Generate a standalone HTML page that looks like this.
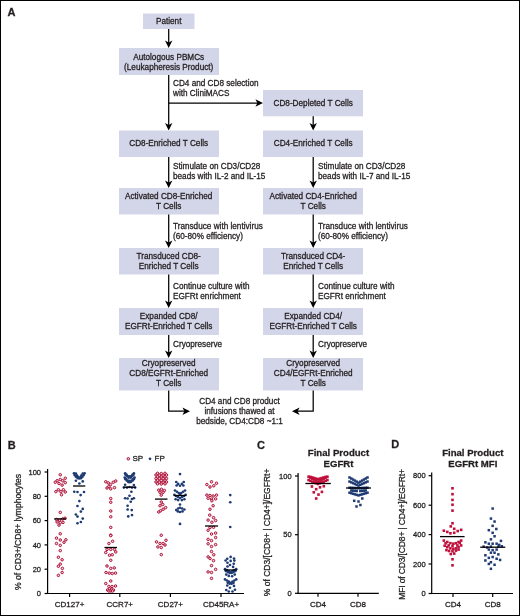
<!DOCTYPE html>
<html><head><meta charset="utf-8"><title>Figure</title>
<style>
html,body{margin:0;padding:0;background:#fff;}
body{width:520px;height:616px;overflow:hidden;position:relative;}
svg{position:absolute;left:0;top:0;display:block;}
svg text{font-family:"Liberation Sans",sans-serif;fill:#231f20;stroke:#231f20;stroke-width:0.28px;}
#frame{position:absolute;left:0;top:0;width:520px;height:616px;box-sizing:border-box;border:1px solid #000;border-bottom-width:1.5px;}
</style></head><body>
<svg width="520" height="616" viewBox="0 0 520 616">
<text x="7.6" y="16" text-anchor="start" font-size="11" font-weight="bold" >A</text>
<rect x="143" y="13.5" width="51.5" height="15.5" fill="#d3d5e8"/>
<text x="168.7" y="23.9" text-anchor="middle" font-size="8.2" font-weight="normal" >Patient</text>
<line x1="168.7" y1="29" x2="168.7" y2="44" stroke="#000" stroke-width="1.25"/>
<polygon points="168.70,48.00 165.00,40.40 168.70,42.40 172.40,40.40" fill="#000"/>
<rect x="119" y="48" width="100" height="27" fill="#d3d5e8"/>
<text x="168.7" y="59.6" text-anchor="middle" font-size="8.2" font-weight="normal" >Autologous PBMCs</text>
<text x="168.7" y="69.6" text-anchor="middle" font-size="8.2" font-weight="normal" >(Leukapheresis Product)</text>
<line x1="168.7" y1="75" x2="168.7" y2="126.5" stroke="#000" stroke-width="1.25"/>
<polygon points="168.70,130.50 165.00,122.90 168.70,124.90 172.40,122.90" fill="#000"/>
<text x="173" y="85.8" text-anchor="start" font-size="8.2" font-weight="normal" >CD4 and CD8 selection</text>
<text x="173" y="95.8" text-anchor="start" font-size="8.2" font-weight="normal" >with CliniMACS</text>
<line x1="168.7" y1="103" x2="258" y2="103" stroke="#000" stroke-width="1.25"/>
<polygon points="263.00,103.00 255.40,99.30 257.40,103.00 255.40,106.70" fill="#000"/>
<rect x="119" y="130.5" width="100" height="26.5" fill="#d3d5e8"/>
<text x="168.7" y="146.3" text-anchor="middle" font-size="8.2" font-weight="normal" >CD8-Enriched T Cells</text>
<line x1="168.7" y1="157" x2="168.7" y2="184" stroke="#000" stroke-width="1.25"/>
<polygon points="168.70,188.00 165.00,180.40 168.70,182.40 172.40,180.40" fill="#000"/>
<text x="173" y="168.8" text-anchor="start" font-size="8.2" font-weight="normal" >Stimulate on CD3/CD28</text>
<text x="173" y="178.8" text-anchor="start" font-size="8.2" font-weight="normal" >beads with IL-2 and IL-15</text>
<rect x="119" y="188" width="100" height="26.5" fill="#d3d5e8"/>
<text x="168.7" y="199.2" text-anchor="middle" font-size="8.2" font-weight="normal" >Activated CD8-Enriched</text>
<text x="168.7" y="209.2" text-anchor="middle" font-size="8.2" font-weight="normal" >T Cells</text>
<line x1="168.7" y1="214.5" x2="168.7" y2="244" stroke="#000" stroke-width="1.25"/>
<polygon points="168.70,248.00 165.00,240.40 168.70,242.40 172.40,240.40" fill="#000"/>
<text x="173" y="229" text-anchor="start" font-size="8.2" font-weight="normal" >Transduce with lentivirus</text>
<text x="173" y="239" text-anchor="start" font-size="8.2" font-weight="normal" >(60-80% efficiency)</text>
<rect x="119" y="248" width="100" height="26.5" fill="#d3d5e8"/>
<text x="168.7" y="259.2" text-anchor="middle" font-size="8.2" font-weight="normal" >Transduced CD8-</text>
<text x="168.7" y="269.2" text-anchor="middle" font-size="8.2" font-weight="normal" >Enriched T Cells</text>
<line x1="168.7" y1="274.5" x2="168.7" y2="304" stroke="#000" stroke-width="1.25"/>
<polygon points="168.70,308.00 165.00,300.40 168.70,302.40 172.40,300.40" fill="#000"/>
<text x="173" y="288.8" text-anchor="start" font-size="8.2" font-weight="normal" >Continue culture with</text>
<text x="173" y="298.8" text-anchor="start" font-size="8.2" font-weight="normal" >EGFRt enrichment</text>
<rect x="119" y="308" width="100" height="27" fill="#d3d5e8"/>
<text x="168.7" y="319.2" text-anchor="middle" font-size="8.2" font-weight="normal" >Expanded CD8/</text>
<text x="168.7" y="329.2" text-anchor="middle" font-size="8.2" font-weight="normal" >EGFRt-Enriched T Cells</text>
<line x1="168.7" y1="335" x2="168.7" y2="354" stroke="#000" stroke-width="1.25"/>
<polygon points="168.70,358.00 165.00,350.40 168.70,352.40 172.40,350.40" fill="#000"/>
<text x="173" y="347" text-anchor="start" font-size="8.2" font-weight="normal" >Cryopreserve</text>
<rect x="119" y="358" width="100" height="32.5" fill="#d3d5e8"/>
<text x="168.7" y="366.3" text-anchor="middle" font-size="8.2" font-weight="normal" >Cryopreserved</text>
<text x="168.7" y="376.3" text-anchor="middle" font-size="8.2" font-weight="normal" >CD8/EGFRt-Enriched</text>
<text x="168.7" y="386.3" text-anchor="middle" font-size="8.2" font-weight="normal" >T Cells</text>
<polyline points="168.7,390.5 168.7,411.2 186,411.2" fill="none" stroke="#000" stroke-width="1.25"/>
<polygon points="190.00,411.20 182.40,407.50 184.40,411.20 182.40,414.90" fill="#000"/>
<rect x="263" y="90" width="100" height="26.299999999999997" fill="#d3d5e8"/>
<text x="313.2" y="105.8" text-anchor="middle" font-size="8.2" font-weight="normal" >CD8-Depleted T Cells</text>
<line x1="313.2" y1="116.3" x2="313.2" y2="126.5" stroke="#000" stroke-width="1.25"/>
<polygon points="313.20,130.50 309.50,122.90 313.20,124.90 316.90,122.90" fill="#000"/>
<rect x="263" y="130.5" width="100" height="26.5" fill="#d3d5e8"/>
<text x="313.2" y="146" text-anchor="middle" font-size="8.2" font-weight="normal" >CD4-Enriched T Cells</text>
<line x1="313.2" y1="157" x2="313.2" y2="184" stroke="#000" stroke-width="1.25"/>
<polygon points="313.20,188.00 309.50,180.40 313.20,182.40 316.90,180.40" fill="#000"/>
<text x="318" y="168.8" text-anchor="start" font-size="8.2" font-weight="normal" >Stimulate on CD3/CD28</text>
<text x="318" y="178.8" text-anchor="start" font-size="8.2" font-weight="normal" >beads with IL-7 and IL-15</text>
<rect x="263" y="188" width="100" height="26.5" fill="#d3d5e8"/>
<text x="313.2" y="199.2" text-anchor="middle" font-size="8.2" font-weight="normal" >Activated CD4-Enriched</text>
<text x="313.2" y="209.2" text-anchor="middle" font-size="8.2" font-weight="normal" >T Cells</text>
<line x1="313.2" y1="214.5" x2="313.2" y2="244" stroke="#000" stroke-width="1.25"/>
<polygon points="313.20,248.00 309.50,240.40 313.20,242.40 316.90,240.40" fill="#000"/>
<text x="318" y="229" text-anchor="start" font-size="8.2" font-weight="normal" >Transduce with lentivirus</text>
<text x="318" y="239" text-anchor="start" font-size="8.2" font-weight="normal" >(60-80% efficiency)</text>
<rect x="263" y="248" width="100" height="26.5" fill="#d3d5e8"/>
<text x="313.2" y="259.2" text-anchor="middle" font-size="8.2" font-weight="normal" >Transduced CD4-</text>
<text x="313.2" y="269.2" text-anchor="middle" font-size="8.2" font-weight="normal" >Enriched T Cells</text>
<line x1="313.2" y1="274.5" x2="313.2" y2="304" stroke="#000" stroke-width="1.25"/>
<polygon points="313.20,308.00 309.50,300.40 313.20,302.40 316.90,300.40" fill="#000"/>
<text x="318" y="288.8" text-anchor="start" font-size="8.2" font-weight="normal" >Continue culture with</text>
<text x="318" y="298.8" text-anchor="start" font-size="8.2" font-weight="normal" >EGFRt enrichment</text>
<rect x="263" y="308" width="100" height="27" fill="#d3d5e8"/>
<text x="313.2" y="319.2" text-anchor="middle" font-size="8.2" font-weight="normal" >Expanded CD4/</text>
<text x="313.2" y="329.2" text-anchor="middle" font-size="8.2" font-weight="normal" >EGFRt-Enriched T Cells</text>
<line x1="313.2" y1="335" x2="313.2" y2="354" stroke="#000" stroke-width="1.25"/>
<polygon points="313.20,358.00 309.50,350.40 313.20,352.40 316.90,350.40" fill="#000"/>
<text x="318" y="347" text-anchor="start" font-size="8.2" font-weight="normal" >Cryopreserve</text>
<rect x="263" y="358" width="100" height="32.5" fill="#d3d5e8"/>
<text x="313.2" y="366.3" text-anchor="middle" font-size="8.2" font-weight="normal" >Cryopreserved</text>
<text x="313.2" y="376.3" text-anchor="middle" font-size="8.2" font-weight="normal" >CD4/EGFRt-Enriched</text>
<text x="313.2" y="386.3" text-anchor="middle" font-size="8.2" font-weight="normal" >T Cells</text>
<polyline points="313.2,390.5 313.2,411.2 296,411.2" fill="none" stroke="#000" stroke-width="1.25"/>
<polygon points="292.00,411.20 299.60,407.50 297.60,411.20 299.60,414.90" fill="#000"/>
<text x="239.5" y="403.8" text-anchor="middle" font-size="8.2" font-weight="normal" >CD4 and CD8 product</text>
<text x="239.5" y="413.8" text-anchor="middle" font-size="8.2" font-weight="normal" >infusions thawed at</text>
<text x="239.5" y="423.8" text-anchor="middle" font-size="8.2" font-weight="normal" >bedside, CD4:CD8 ~1:1</text>
<text x="7.8" y="448.6" text-anchor="start" font-size="11" font-weight="bold" >B</text>
<circle cx="128.30" cy="458.80" r="1.25" fill="#f6d3dc" stroke="#ad0e35" stroke-width="1.0"/>
<text x="132.5" y="461.3" text-anchor="start" font-size="8.0" font-weight="normal" >SP</text>
<circle cx="150.00" cy="458.80" r="1.35" fill="#1f3b73"/>
<text x="154.5" y="461.3" text-anchor="start" font-size="8.0" font-weight="normal" >FP</text>
<line x1="47.6" y1="469" x2="47.6" y2="594" stroke="#000" stroke-width="1.2"/>
<line x1="47.1" y1="593.5" x2="244" y2="593.5" stroke="#000" stroke-width="1.2"/>
<line x1="44.6" y1="593.5" x2="47.6" y2="593.5" stroke="#000" stroke-width="1.2"/>
<text x="41" y="596.1" text-anchor="end" font-size="7.5" font-weight="normal" >0</text>
<line x1="44.6" y1="569.2" x2="47.6" y2="569.2" stroke="#000" stroke-width="1.2"/>
<text x="41" y="571.8000000000001" text-anchor="end" font-size="7.5" font-weight="normal" >20</text>
<line x1="44.6" y1="544.9" x2="47.6" y2="544.9" stroke="#000" stroke-width="1.2"/>
<text x="41" y="547.5" text-anchor="end" font-size="7.5" font-weight="normal" >40</text>
<line x1="44.6" y1="520.6" x2="47.6" y2="520.6" stroke="#000" stroke-width="1.2"/>
<text x="41" y="523.2" text-anchor="end" font-size="7.5" font-weight="normal" >60</text>
<line x1="44.6" y1="496.3" x2="47.6" y2="496.3" stroke="#000" stroke-width="1.2"/>
<text x="41" y="498.90000000000003" text-anchor="end" font-size="7.5" font-weight="normal" >80</text>
<line x1="44.6" y1="472.0" x2="47.6" y2="472.0" stroke="#000" stroke-width="1.2"/>
<text x="41" y="474.6" text-anchor="end" font-size="7.5" font-weight="normal" >100</text>
<line x1="69.6" y1="593.5" x2="69.6" y2="597" stroke="#000" stroke-width="1.2"/>
<text x="69.6" y="606.6" text-anchor="middle" font-size="8.0" font-weight="normal" >CD127+</text>
<line x1="119.8" y1="593.5" x2="119.8" y2="597" stroke="#000" stroke-width="1.2"/>
<text x="119.8" y="606.6" text-anchor="middle" font-size="8.0" font-weight="normal" >CCR7+</text>
<line x1="170.4" y1="593.5" x2="170.4" y2="597" stroke="#000" stroke-width="1.2"/>
<text x="170.4" y="606.6" text-anchor="middle" font-size="8.0" font-weight="normal" >CD27+</text>
<line x1="221" y1="593.5" x2="221" y2="597" stroke="#000" stroke-width="1.2"/>
<text x="221" y="606.6" text-anchor="middle" font-size="8.0" font-weight="normal" >CD45RA+</text>
<text transform="translate(21.3,531.9) rotate(-90)" text-anchor="middle" font-size="8.6" textLength="116" lengthAdjust="spacing">% of CD3+/CD8+ lymphocytes</text>
<circle cx="60.25" cy="474.75" r="1.25" fill="#f6d3dc" stroke="#ad0e35" stroke-width="1.0"/>
<circle cx="65.25" cy="478.25" r="1.25" fill="#f6d3dc" stroke="#ad0e35" stroke-width="1.0"/>
<circle cx="60.25" cy="479.50" r="1.25" fill="#f6d3dc" stroke="#ad0e35" stroke-width="1.0"/>
<circle cx="57.12" cy="480.75" r="1.25" fill="#f6d3dc" stroke="#ad0e35" stroke-width="1.0"/>
<circle cx="62.75" cy="480.75" r="1.25" fill="#f6d3dc" stroke="#ad0e35" stroke-width="1.0"/>
<circle cx="55.25" cy="482.25" r="1.25" fill="#f6d3dc" stroke="#ad0e35" stroke-width="1.0"/>
<circle cx="65.25" cy="482.62" r="1.25" fill="#f6d3dc" stroke="#ad0e35" stroke-width="1.0"/>
<circle cx="59.00" cy="483.50" r="1.25" fill="#f6d3dc" stroke="#ad0e35" stroke-width="1.0"/>
<circle cx="62.12" cy="485.12" r="1.25" fill="#f6d3dc" stroke="#ad0e35" stroke-width="1.0"/>
<circle cx="58.38" cy="489.75" r="1.25" fill="#f6d3dc" stroke="#ad0e35" stroke-width="1.0"/>
<circle cx="63.38" cy="489.75" r="1.25" fill="#f6d3dc" stroke="#ad0e35" stroke-width="1.0"/>
<circle cx="55.88" cy="491.62" r="1.25" fill="#f6d3dc" stroke="#ad0e35" stroke-width="1.0"/>
<circle cx="60.88" cy="491.62" r="1.25" fill="#f6d3dc" stroke="#ad0e35" stroke-width="1.0"/>
<circle cx="65.25" cy="492.00" r="1.25" fill="#f6d3dc" stroke="#ad0e35" stroke-width="1.0"/>
<circle cx="61.50" cy="494.75" r="1.25" fill="#f6d3dc" stroke="#ad0e35" stroke-width="1.0"/>
<circle cx="60.25" cy="512.38" r="1.25" fill="#f6d3dc" stroke="#ad0e35" stroke-width="1.0"/>
<circle cx="56.50" cy="519.50" r="1.25" fill="#f6d3dc" stroke="#ad0e35" stroke-width="1.0"/>
<circle cx="59.62" cy="520.12" r="1.25" fill="#f6d3dc" stroke="#ad0e35" stroke-width="1.0"/>
<circle cx="62.75" cy="518.88" r="1.25" fill="#f6d3dc" stroke="#ad0e35" stroke-width="1.0"/>
<circle cx="65.00" cy="518.25" r="1.25" fill="#f6d3dc" stroke="#ad0e35" stroke-width="1.0"/>
<circle cx="57.12" cy="522.00" r="1.25" fill="#f6d3dc" stroke="#ad0e35" stroke-width="1.0"/>
<circle cx="60.25" cy="522.62" r="1.25" fill="#f6d3dc" stroke="#ad0e35" stroke-width="1.0"/>
<circle cx="63.00" cy="522.38" r="1.25" fill="#f6d3dc" stroke="#ad0e35" stroke-width="1.0"/>
<circle cx="59.00" cy="525.12" r="1.25" fill="#f6d3dc" stroke="#ad0e35" stroke-width="1.0"/>
<circle cx="60.25" cy="533.75" r="1.25" fill="#f6d3dc" stroke="#ad0e35" stroke-width="1.0"/>
<circle cx="56.50" cy="538.12" r="1.25" fill="#f6d3dc" stroke="#ad0e35" stroke-width="1.0"/>
<circle cx="60.25" cy="540.00" r="1.25" fill="#f6d3dc" stroke="#ad0e35" stroke-width="1.0"/>
<circle cx="65.88" cy="539.75" r="1.25" fill="#f6d3dc" stroke="#ad0e35" stroke-width="1.0"/>
<circle cx="64.00" cy="542.25" r="1.25" fill="#f6d3dc" stroke="#ad0e35" stroke-width="1.0"/>
<circle cx="56.50" cy="543.50" r="1.25" fill="#f6d3dc" stroke="#ad0e35" stroke-width="1.0"/>
<circle cx="60.25" cy="545.38" r="1.25" fill="#f6d3dc" stroke="#ad0e35" stroke-width="1.0"/>
<circle cx="60.25" cy="550.62" r="1.25" fill="#f6d3dc" stroke="#ad0e35" stroke-width="1.0"/>
<circle cx="58.38" cy="557.25" r="1.25" fill="#f6d3dc" stroke="#ad0e35" stroke-width="1.0"/>
<circle cx="62.12" cy="559.75" r="1.25" fill="#f6d3dc" stroke="#ad0e35" stroke-width="1.0"/>
<circle cx="60.25" cy="564.12" r="1.25" fill="#f6d3dc" stroke="#ad0e35" stroke-width="1.0"/>
<circle cx="58.38" cy="566.25" r="1.25" fill="#f6d3dc" stroke="#ad0e35" stroke-width="1.0"/>
<circle cx="62.38" cy="568.38" r="1.25" fill="#f6d3dc" stroke="#ad0e35" stroke-width="1.0"/>
<circle cx="62.12" cy="572.50" r="1.25" fill="#f6d3dc" stroke="#ad0e35" stroke-width="1.0"/>
<circle cx="58.38" cy="575.38" r="1.25" fill="#f6d3dc" stroke="#ad0e35" stroke-width="1.0"/>
<line x1="54.2" y1="518.9" x2="66.2" y2="518.9" stroke="#000" stroke-width="1.3"/>
<circle cx="74.00" cy="473.25" r="1.35" fill="#1f3b73"/>
<circle cx="75.88" cy="473.50" r="1.35" fill="#1f3b73"/>
<circle cx="82.75" cy="473.50" r="1.35" fill="#1f3b73"/>
<circle cx="84.62" cy="473.25" r="1.35" fill="#1f3b73"/>
<circle cx="74.62" cy="475.12" r="1.35" fill="#1f3b73"/>
<circle cx="76.75" cy="475.25" r="1.35" fill="#1f3b73"/>
<circle cx="81.50" cy="475.25" r="1.35" fill="#1f3b73"/>
<circle cx="83.75" cy="475.12" r="1.35" fill="#1f3b73"/>
<circle cx="75.88" cy="476.75" r="1.35" fill="#1f3b73"/>
<circle cx="78.00" cy="476.88" r="1.35" fill="#1f3b73"/>
<circle cx="80.50" cy="476.88" r="1.35" fill="#1f3b73"/>
<circle cx="82.50" cy="476.75" r="1.35" fill="#1f3b73"/>
<circle cx="77.75" cy="478.25" r="1.35" fill="#1f3b73"/>
<circle cx="79.38" cy="478.50" r="1.35" fill="#1f3b73"/>
<circle cx="81.00" cy="478.25" r="1.35" fill="#1f3b73"/>
<circle cx="75.88" cy="480.75" r="1.35" fill="#1f3b73"/>
<circle cx="82.75" cy="481.38" r="1.35" fill="#1f3b73"/>
<circle cx="79.38" cy="483.50" r="1.35" fill="#1f3b73"/>
<circle cx="74.25" cy="491.75" r="1.35" fill="#1f3b73"/>
<circle cx="77.50" cy="492.00" r="1.35" fill="#1f3b73"/>
<circle cx="84.00" cy="492.00" r="1.35" fill="#1f3b73"/>
<circle cx="80.62" cy="495.12" r="1.35" fill="#1f3b73"/>
<circle cx="79.38" cy="501.12" r="1.35" fill="#1f3b73"/>
<circle cx="77.50" cy="506.00" r="1.35" fill="#1f3b73"/>
<circle cx="82.75" cy="508.88" r="1.35" fill="#1f3b73"/>
<circle cx="80.88" cy="511.62" r="1.35" fill="#1f3b73"/>
<circle cx="75.88" cy="514.50" r="1.35" fill="#1f3b73"/>
<circle cx="77.50" cy="516.62" r="1.35" fill="#1f3b73"/>
<circle cx="82.75" cy="518.62" r="1.35" fill="#1f3b73"/>
<circle cx="80.88" cy="522.00" r="1.35" fill="#1f3b73"/>
<circle cx="77.50" cy="523.25" r="1.35" fill="#1f3b73"/>
<line x1="73" y1="486" x2="85.3" y2="486" stroke="#000" stroke-width="1.3"/>
<circle cx="105.75" cy="481.75" r="1.25" fill="#f6d3dc" stroke="#ad0e35" stroke-width="1.0"/>
<circle cx="115.75" cy="481.00" r="1.25" fill="#f6d3dc" stroke="#ad0e35" stroke-width="1.0"/>
<circle cx="108.25" cy="482.88" r="1.25" fill="#f6d3dc" stroke="#ad0e35" stroke-width="1.0"/>
<circle cx="113.25" cy="482.25" r="1.25" fill="#f6d3dc" stroke="#ad0e35" stroke-width="1.0"/>
<circle cx="110.50" cy="484.50" r="1.25" fill="#f6d3dc" stroke="#ad0e35" stroke-width="1.0"/>
<circle cx="107.00" cy="488.00" r="1.25" fill="#f6d3dc" stroke="#ad0e35" stroke-width="1.0"/>
<circle cx="110.75" cy="488.88" r="1.25" fill="#f6d3dc" stroke="#ad0e35" stroke-width="1.0"/>
<circle cx="114.50" cy="487.62" r="1.25" fill="#f6d3dc" stroke="#ad0e35" stroke-width="1.0"/>
<circle cx="108.88" cy="486.38" r="1.25" fill="#f6d3dc" stroke="#ad0e35" stroke-width="1.0"/>
<circle cx="110.75" cy="498.50" r="1.25" fill="#f6d3dc" stroke="#ad0e35" stroke-width="1.0"/>
<circle cx="110.75" cy="502.25" r="1.25" fill="#f6d3dc" stroke="#ad0e35" stroke-width="1.0"/>
<circle cx="110.75" cy="511.00" r="1.25" fill="#f6d3dc" stroke="#ad0e35" stroke-width="1.0"/>
<circle cx="110.75" cy="516.75" r="1.25" fill="#f6d3dc" stroke="#ad0e35" stroke-width="1.0"/>
<circle cx="110.75" cy="527.38" r="1.25" fill="#f6d3dc" stroke="#ad0e35" stroke-width="1.0"/>
<circle cx="110.75" cy="535.12" r="1.25" fill="#f6d3dc" stroke="#ad0e35" stroke-width="1.0"/>
<circle cx="110.75" cy="535.62" r="1.25" fill="#f6d3dc" stroke="#ad0e35" stroke-width="1.0"/>
<circle cx="112.62" cy="541.25" r="1.25" fill="#f6d3dc" stroke="#ad0e35" stroke-width="1.0"/>
<circle cx="108.88" cy="543.50" r="1.25" fill="#f6d3dc" stroke="#ad0e35" stroke-width="1.0"/>
<circle cx="107.00" cy="549.38" r="1.25" fill="#f6d3dc" stroke="#ad0e35" stroke-width="1.0"/>
<circle cx="110.75" cy="549.38" r="1.25" fill="#f6d3dc" stroke="#ad0e35" stroke-width="1.0"/>
<circle cx="114.50" cy="549.38" r="1.25" fill="#f6d3dc" stroke="#ad0e35" stroke-width="1.0"/>
<circle cx="105.75" cy="552.50" r="1.25" fill="#f6d3dc" stroke="#ad0e35" stroke-width="1.0"/>
<circle cx="115.75" cy="551.88" r="1.25" fill="#f6d3dc" stroke="#ad0e35" stroke-width="1.0"/>
<circle cx="109.50" cy="555.25" r="1.25" fill="#f6d3dc" stroke="#ad0e35" stroke-width="1.0"/>
<circle cx="112.25" cy="554.75" r="1.25" fill="#f6d3dc" stroke="#ad0e35" stroke-width="1.0"/>
<circle cx="110.75" cy="560.25" r="1.25" fill="#f6d3dc" stroke="#ad0e35" stroke-width="1.0"/>
<circle cx="107.00" cy="566.00" r="1.25" fill="#f6d3dc" stroke="#ad0e35" stroke-width="1.0"/>
<circle cx="110.75" cy="568.38" r="1.25" fill="#f6d3dc" stroke="#ad0e35" stroke-width="1.0"/>
<circle cx="114.25" cy="567.88" r="1.25" fill="#f6d3dc" stroke="#ad0e35" stroke-width="1.0"/>
<circle cx="106.00" cy="572.50" r="1.25" fill="#f6d3dc" stroke="#ad0e35" stroke-width="1.0"/>
<circle cx="109.25" cy="573.12" r="1.25" fill="#f6d3dc" stroke="#ad0e35" stroke-width="1.0"/>
<circle cx="112.25" cy="573.50" r="1.25" fill="#f6d3dc" stroke="#ad0e35" stroke-width="1.0"/>
<circle cx="115.50" cy="573.12" r="1.25" fill="#f6d3dc" stroke="#ad0e35" stroke-width="1.0"/>
<circle cx="110.75" cy="581.00" r="1.25" fill="#f6d3dc" stroke="#ad0e35" stroke-width="1.0"/>
<circle cx="105.75" cy="583.50" r="1.25" fill="#f6d3dc" stroke="#ad0e35" stroke-width="1.0"/>
<circle cx="108.88" cy="586.50" r="1.25" fill="#f6d3dc" stroke="#ad0e35" stroke-width="1.0"/>
<circle cx="112.00" cy="586.50" r="1.25" fill="#f6d3dc" stroke="#ad0e35" stroke-width="1.0"/>
<circle cx="115.50" cy="586.00" r="1.25" fill="#f6d3dc" stroke="#ad0e35" stroke-width="1.0"/>
<circle cx="107.62" cy="590.00" r="1.25" fill="#f6d3dc" stroke="#ad0e35" stroke-width="1.0"/>
<circle cx="109.50" cy="588.75" r="1.25" fill="#f6d3dc" stroke="#ad0e35" stroke-width="1.0"/>
<circle cx="111.38" cy="589.38" r="1.25" fill="#f6d3dc" stroke="#ad0e35" stroke-width="1.0"/>
<circle cx="113.50" cy="590.00" r="1.25" fill="#f6d3dc" stroke="#ad0e35" stroke-width="1.0"/>
<circle cx="110.75" cy="591.00" r="1.25" fill="#f6d3dc" stroke="#ad0e35" stroke-width="1.0"/>
<circle cx="108.88" cy="591.00" r="1.25" fill="#f6d3dc" stroke="#ad0e35" stroke-width="1.0"/>
<circle cx="112.62" cy="591.00" r="1.25" fill="#f6d3dc" stroke="#ad0e35" stroke-width="1.0"/>
<line x1="104.5" y1="547.5" x2="117" y2="547.5" stroke="#000" stroke-width="1.3"/>
<circle cx="125.12" cy="473.25" r="1.35" fill="#1f3b73"/>
<circle cx="133.88" cy="473.25" r="1.35" fill="#1f3b73"/>
<circle cx="126.38" cy="474.50" r="1.35" fill="#1f3b73"/>
<circle cx="132.62" cy="474.50" r="1.35" fill="#1f3b73"/>
<circle cx="127.62" cy="476.00" r="1.35" fill="#1f3b73"/>
<circle cx="129.50" cy="476.38" r="1.35" fill="#1f3b73"/>
<circle cx="131.38" cy="476.00" r="1.35" fill="#1f3b73"/>
<circle cx="124.75" cy="477.62" r="1.35" fill="#1f3b73"/>
<circle cx="134.50" cy="477.62" r="1.35" fill="#1f3b73"/>
<circle cx="126.00" cy="478.88" r="1.35" fill="#1f3b73"/>
<circle cx="133.25" cy="478.88" r="1.35" fill="#1f3b73"/>
<circle cx="127.62" cy="480.50" r="1.35" fill="#1f3b73"/>
<circle cx="129.50" cy="480.75" r="1.35" fill="#1f3b73"/>
<circle cx="131.75" cy="480.50" r="1.35" fill="#1f3b73"/>
<circle cx="125.50" cy="474.75" r="1.35" fill="#1f3b73"/>
<circle cx="133.50" cy="474.75" r="1.35" fill="#1f3b73"/>
<circle cx="127.00" cy="476.00" r="1.35" fill="#1f3b73"/>
<circle cx="132.25" cy="476.00" r="1.35" fill="#1f3b73"/>
<circle cx="128.50" cy="477.75" r="1.35" fill="#1f3b73"/>
<circle cx="130.75" cy="477.75" r="1.35" fill="#1f3b73"/>
<circle cx="125.25" cy="479.12" r="1.35" fill="#1f3b73"/>
<circle cx="134.00" cy="479.12" r="1.35" fill="#1f3b73"/>
<circle cx="126.75" cy="480.50" r="1.35" fill="#1f3b73"/>
<circle cx="132.75" cy="480.50" r="1.35" fill="#1f3b73"/>
<circle cx="129.50" cy="482.25" r="1.35" fill="#1f3b73"/>
<circle cx="128.25" cy="482.00" r="1.35" fill="#1f3b73"/>
<circle cx="131.00" cy="482.00" r="1.35" fill="#1f3b73"/>
<circle cx="125.12" cy="484.75" r="1.35" fill="#1f3b73"/>
<circle cx="133.88" cy="485.12" r="1.35" fill="#1f3b73"/>
<circle cx="123.88" cy="487.62" r="1.35" fill="#1f3b73"/>
<circle cx="127.00" cy="487.62" r="1.35" fill="#1f3b73"/>
<circle cx="129.50" cy="487.00" r="1.35" fill="#1f3b73"/>
<circle cx="132.00" cy="487.62" r="1.35" fill="#1f3b73"/>
<circle cx="135.12" cy="487.62" r="1.35" fill="#1f3b73"/>
<circle cx="131.38" cy="491.75" r="1.35" fill="#1f3b73"/>
<circle cx="129.50" cy="495.75" r="1.35" fill="#1f3b73"/>
<circle cx="125.12" cy="498.25" r="1.35" fill="#1f3b73"/>
<circle cx="127.62" cy="498.50" r="1.35" fill="#1f3b73"/>
<circle cx="133.88" cy="498.25" r="1.35" fill="#1f3b73"/>
<circle cx="132.00" cy="499.00" r="1.35" fill="#1f3b73"/>
<circle cx="130.75" cy="501.75" r="1.35" fill="#1f3b73"/>
<circle cx="127.62" cy="505.75" r="1.35" fill="#1f3b73"/>
<circle cx="127.62" cy="509.50" r="1.35" fill="#1f3b73"/>
<circle cx="131.75" cy="510.12" r="1.35" fill="#1f3b73"/>
<circle cx="132.00" cy="515.12" r="1.35" fill="#1f3b73"/>
<circle cx="128.25" cy="516.38" r="1.35" fill="#1f3b73"/>
<line x1="123.3" y1="487.2" x2="135.8" y2="487.2" stroke="#000" stroke-width="1.3"/>
<circle cx="157.50" cy="473.31" r="1.25" fill="#f6d3dc" stroke="#ad0e35" stroke-width="1.0"/>
<circle cx="161.25" cy="473.50" r="1.25" fill="#f6d3dc" stroke="#ad0e35" stroke-width="1.0"/>
<circle cx="165.00" cy="473.31" r="1.25" fill="#f6d3dc" stroke="#ad0e35" stroke-width="1.0"/>
<circle cx="156.00" cy="474.99" r="1.25" fill="#f6d3dc" stroke="#ad0e35" stroke-width="1.0"/>
<circle cx="159.38" cy="475.16" r="1.25" fill="#f6d3dc" stroke="#ad0e35" stroke-width="1.0"/>
<circle cx="163.12" cy="475.16" r="1.25" fill="#f6d3dc" stroke="#ad0e35" stroke-width="1.0"/>
<circle cx="166.50" cy="474.99" r="1.25" fill="#f6d3dc" stroke="#ad0e35" stroke-width="1.0"/>
<circle cx="157.50" cy="476.81" r="1.25" fill="#f6d3dc" stroke="#ad0e35" stroke-width="1.0"/>
<circle cx="161.25" cy="477.00" r="1.25" fill="#f6d3dc" stroke="#ad0e35" stroke-width="1.0"/>
<circle cx="165.00" cy="476.81" r="1.25" fill="#f6d3dc" stroke="#ad0e35" stroke-width="1.0"/>
<circle cx="156.00" cy="478.49" r="1.25" fill="#f6d3dc" stroke="#ad0e35" stroke-width="1.0"/>
<circle cx="159.38" cy="478.66" r="1.25" fill="#f6d3dc" stroke="#ad0e35" stroke-width="1.0"/>
<circle cx="163.12" cy="478.66" r="1.25" fill="#f6d3dc" stroke="#ad0e35" stroke-width="1.0"/>
<circle cx="166.50" cy="478.49" r="1.25" fill="#f6d3dc" stroke="#ad0e35" stroke-width="1.0"/>
<circle cx="157.50" cy="480.31" r="1.25" fill="#f6d3dc" stroke="#ad0e35" stroke-width="1.0"/>
<circle cx="161.25" cy="480.50" r="1.25" fill="#f6d3dc" stroke="#ad0e35" stroke-width="1.0"/>
<circle cx="165.00" cy="480.31" r="1.25" fill="#f6d3dc" stroke="#ad0e35" stroke-width="1.0"/>
<circle cx="156.00" cy="481.99" r="1.25" fill="#f6d3dc" stroke="#ad0e35" stroke-width="1.0"/>
<circle cx="159.38" cy="482.16" r="1.25" fill="#f6d3dc" stroke="#ad0e35" stroke-width="1.0"/>
<circle cx="163.12" cy="482.16" r="1.25" fill="#f6d3dc" stroke="#ad0e35" stroke-width="1.0"/>
<circle cx="166.50" cy="481.99" r="1.25" fill="#f6d3dc" stroke="#ad0e35" stroke-width="1.0"/>
<circle cx="157.50" cy="483.81" r="1.25" fill="#f6d3dc" stroke="#ad0e35" stroke-width="1.0"/>
<circle cx="161.25" cy="484.00" r="1.25" fill="#f6d3dc" stroke="#ad0e35" stroke-width="1.0"/>
<circle cx="165.00" cy="483.81" r="1.25" fill="#f6d3dc" stroke="#ad0e35" stroke-width="1.0"/>
<circle cx="158.75" cy="490.12" r="1.25" fill="#f6d3dc" stroke="#ad0e35" stroke-width="1.0"/>
<circle cx="161.50" cy="489.25" r="1.25" fill="#f6d3dc" stroke="#ad0e35" stroke-width="1.0"/>
<circle cx="164.38" cy="490.50" r="1.25" fill="#f6d3dc" stroke="#ad0e35" stroke-width="1.0"/>
<circle cx="160.00" cy="492.25" r="1.25" fill="#f6d3dc" stroke="#ad0e35" stroke-width="1.0"/>
<circle cx="163.12" cy="492.25" r="1.25" fill="#f6d3dc" stroke="#ad0e35" stroke-width="1.0"/>
<circle cx="161.25" cy="495.12" r="1.25" fill="#f6d3dc" stroke="#ad0e35" stroke-width="1.0"/>
<circle cx="161.25" cy="502.00" r="1.25" fill="#f6d3dc" stroke="#ad0e35" stroke-width="1.0"/>
<circle cx="160.00" cy="505.75" r="1.25" fill="#f6d3dc" stroke="#ad0e35" stroke-width="1.0"/>
<circle cx="162.75" cy="504.50" r="1.25" fill="#f6d3dc" stroke="#ad0e35" stroke-width="1.0"/>
<circle cx="165.62" cy="507.62" r="1.25" fill="#f6d3dc" stroke="#ad0e35" stroke-width="1.0"/>
<circle cx="163.12" cy="509.25" r="1.25" fill="#f6d3dc" stroke="#ad0e35" stroke-width="1.0"/>
<circle cx="160.62" cy="510.75" r="1.25" fill="#f6d3dc" stroke="#ad0e35" stroke-width="1.0"/>
<circle cx="158.75" cy="512.00" r="1.25" fill="#f6d3dc" stroke="#ad0e35" stroke-width="1.0"/>
<circle cx="161.25" cy="535.25" r="1.25" fill="#f6d3dc" stroke="#ad0e35" stroke-width="1.0"/>
<circle cx="166.00" cy="540.25" r="1.25" fill="#f6d3dc" stroke="#ad0e35" stroke-width="1.0"/>
<circle cx="156.50" cy="541.88" r="1.25" fill="#f6d3dc" stroke="#ad0e35" stroke-width="1.0"/>
<circle cx="160.00" cy="543.50" r="1.25" fill="#f6d3dc" stroke="#ad0e35" stroke-width="1.0"/>
<circle cx="163.12" cy="543.50" r="1.25" fill="#f6d3dc" stroke="#ad0e35" stroke-width="1.0"/>
<circle cx="165.00" cy="545.00" r="1.25" fill="#f6d3dc" stroke="#ad0e35" stroke-width="1.0"/>
<circle cx="157.88" cy="546.88" r="1.25" fill="#f6d3dc" stroke="#ad0e35" stroke-width="1.0"/>
<circle cx="161.25" cy="547.50" r="1.25" fill="#f6d3dc" stroke="#ad0e35" stroke-width="1.0"/>
<circle cx="161.25" cy="554.62" r="1.25" fill="#f6d3dc" stroke="#ad0e35" stroke-width="1.0"/>
<line x1="155" y1="499.1" x2="167.5" y2="499.1" stroke="#000" stroke-width="1.3"/>
<circle cx="180.00" cy="474.12" r="1.35" fill="#1f3b73"/>
<circle cx="176.25" cy="482.00" r="1.35" fill="#1f3b73"/>
<circle cx="183.75" cy="482.00" r="1.35" fill="#1f3b73"/>
<circle cx="178.12" cy="483.88" r="1.35" fill="#1f3b73"/>
<circle cx="181.88" cy="483.88" r="1.35" fill="#1f3b73"/>
<circle cx="180.00" cy="485.75" r="1.35" fill="#1f3b73"/>
<circle cx="176.62" cy="485.50" r="1.35" fill="#1f3b73"/>
<circle cx="183.38" cy="485.50" r="1.35" fill="#1f3b73"/>
<circle cx="175.00" cy="490.50" r="1.35" fill="#1f3b73"/>
<circle cx="185.00" cy="490.50" r="1.35" fill="#1f3b73"/>
<circle cx="176.88" cy="491.75" r="1.35" fill="#1f3b73"/>
<circle cx="183.12" cy="491.75" r="1.35" fill="#1f3b73"/>
<circle cx="178.75" cy="493.00" r="1.35" fill="#1f3b73"/>
<circle cx="181.25" cy="493.00" r="1.35" fill="#1f3b73"/>
<circle cx="180.00" cy="494.25" r="1.35" fill="#1f3b73"/>
<circle cx="174.38" cy="494.75" r="1.35" fill="#1f3b73"/>
<circle cx="185.62" cy="494.75" r="1.35" fill="#1f3b73"/>
<circle cx="176.00" cy="496.00" r="1.35" fill="#1f3b73"/>
<circle cx="184.00" cy="496.00" r="1.35" fill="#1f3b73"/>
<circle cx="177.88" cy="497.00" r="1.35" fill="#1f3b73"/>
<circle cx="182.12" cy="497.00" r="1.35" fill="#1f3b73"/>
<circle cx="180.00" cy="498.00" r="1.35" fill="#1f3b73"/>
<circle cx="175.62" cy="499.25" r="1.35" fill="#1f3b73"/>
<circle cx="184.38" cy="499.25" r="1.35" fill="#1f3b73"/>
<circle cx="178.12" cy="500.12" r="1.35" fill="#1f3b73"/>
<circle cx="181.88" cy="500.12" r="1.35" fill="#1f3b73"/>
<circle cx="180.00" cy="504.50" r="1.35" fill="#1f3b73"/>
<circle cx="176.25" cy="510.12" r="1.35" fill="#1f3b73"/>
<circle cx="178.12" cy="508.50" r="1.35" fill="#1f3b73"/>
<circle cx="180.00" cy="507.75" r="1.35" fill="#1f3b73"/>
<circle cx="182.12" cy="508.50" r="1.35" fill="#1f3b73"/>
<circle cx="184.38" cy="509.50" r="1.35" fill="#1f3b73"/>
<circle cx="180.00" cy="512.00" r="1.35" fill="#1f3b73"/>
<circle cx="177.88" cy="511.38" r="1.35" fill="#1f3b73"/>
<circle cx="182.50" cy="511.38" r="1.35" fill="#1f3b73"/>
<circle cx="180.00" cy="523.88" r="1.35" fill="#1f3b73"/>
<line x1="173.8" y1="495.5" x2="186.3" y2="495.5" stroke="#000" stroke-width="1.3"/>
<circle cx="211.50" cy="481.75" r="1.25" fill="#f6d3dc" stroke="#ad0e35" stroke-width="1.0"/>
<circle cx="216.50" cy="483.25" r="1.25" fill="#f6d3dc" stroke="#ad0e35" stroke-width="1.0"/>
<circle cx="206.88" cy="484.50" r="1.25" fill="#f6d3dc" stroke="#ad0e35" stroke-width="1.0"/>
<circle cx="213.75" cy="485.75" r="1.25" fill="#f6d3dc" stroke="#ad0e35" stroke-width="1.0"/>
<circle cx="210.00" cy="487.00" r="1.25" fill="#f6d3dc" stroke="#ad0e35" stroke-width="1.0"/>
<circle cx="206.88" cy="495.12" r="1.25" fill="#f6d3dc" stroke="#ad0e35" stroke-width="1.0"/>
<circle cx="210.00" cy="495.50" r="1.25" fill="#f6d3dc" stroke="#ad0e35" stroke-width="1.0"/>
<circle cx="213.12" cy="496.00" r="1.25" fill="#f6d3dc" stroke="#ad0e35" stroke-width="1.0"/>
<circle cx="216.50" cy="495.12" r="1.25" fill="#f6d3dc" stroke="#ad0e35" stroke-width="1.0"/>
<circle cx="208.12" cy="498.25" r="1.25" fill="#f6d3dc" stroke="#ad0e35" stroke-width="1.0"/>
<circle cx="211.50" cy="499.12" r="1.25" fill="#f6d3dc" stroke="#ad0e35" stroke-width="1.0"/>
<circle cx="215.62" cy="498.88" r="1.25" fill="#f6d3dc" stroke="#ad0e35" stroke-width="1.0"/>
<circle cx="211.88" cy="500.75" r="1.25" fill="#f6d3dc" stroke="#ad0e35" stroke-width="1.0"/>
<circle cx="213.12" cy="505.75" r="1.25" fill="#f6d3dc" stroke="#ad0e35" stroke-width="1.0"/>
<circle cx="210.00" cy="509.25" r="1.25" fill="#f6d3dc" stroke="#ad0e35" stroke-width="1.0"/>
<circle cx="209.75" cy="515.12" r="1.25" fill="#f6d3dc" stroke="#ad0e35" stroke-width="1.0"/>
<circle cx="213.50" cy="517.62" r="1.25" fill="#f6d3dc" stroke="#ad0e35" stroke-width="1.0"/>
<circle cx="208.12" cy="520.12" r="1.25" fill="#f6d3dc" stroke="#ad0e35" stroke-width="1.0"/>
<circle cx="215.62" cy="520.50" r="1.25" fill="#f6d3dc" stroke="#ad0e35" stroke-width="1.0"/>
<circle cx="211.88" cy="522.25" r="1.25" fill="#f6d3dc" stroke="#ad0e35" stroke-width="1.0"/>
<circle cx="210.00" cy="527.50" r="1.25" fill="#f6d3dc" stroke="#ad0e35" stroke-width="1.0"/>
<circle cx="213.50" cy="527.25" r="1.25" fill="#f6d3dc" stroke="#ad0e35" stroke-width="1.0"/>
<circle cx="208.12" cy="530.25" r="1.25" fill="#f6d3dc" stroke="#ad0e35" stroke-width="1.0"/>
<circle cx="215.62" cy="533.12" r="1.25" fill="#f6d3dc" stroke="#ad0e35" stroke-width="1.0"/>
<circle cx="211.50" cy="534.00" r="1.25" fill="#f6d3dc" stroke="#ad0e35" stroke-width="1.0"/>
<circle cx="215.62" cy="537.50" r="1.25" fill="#f6d3dc" stroke="#ad0e35" stroke-width="1.0"/>
<circle cx="208.12" cy="539.38" r="1.25" fill="#f6d3dc" stroke="#ad0e35" stroke-width="1.0"/>
<circle cx="211.50" cy="540.62" r="1.25" fill="#f6d3dc" stroke="#ad0e35" stroke-width="1.0"/>
<circle cx="208.12" cy="543.75" r="1.25" fill="#f6d3dc" stroke="#ad0e35" stroke-width="1.0"/>
<circle cx="215.62" cy="544.62" r="1.25" fill="#f6d3dc" stroke="#ad0e35" stroke-width="1.0"/>
<circle cx="211.50" cy="546.50" r="1.25" fill="#f6d3dc" stroke="#ad0e35" stroke-width="1.0"/>
<circle cx="211.50" cy="551.50" r="1.25" fill="#f6d3dc" stroke="#ad0e35" stroke-width="1.0"/>
<circle cx="213.75" cy="554.75" r="1.25" fill="#f6d3dc" stroke="#ad0e35" stroke-width="1.0"/>
<circle cx="208.12" cy="556.88" r="1.25" fill="#f6d3dc" stroke="#ad0e35" stroke-width="1.0"/>
<circle cx="210.00" cy="558.50" r="1.25" fill="#f6d3dc" stroke="#ad0e35" stroke-width="1.0"/>
<circle cx="213.50" cy="560.62" r="1.25" fill="#f6d3dc" stroke="#ad0e35" stroke-width="1.0"/>
<circle cx="211.50" cy="565.62" r="1.25" fill="#f6d3dc" stroke="#ad0e35" stroke-width="1.0"/>
<circle cx="215.62" cy="569.38" r="1.25" fill="#f6d3dc" stroke="#ad0e35" stroke-width="1.0"/>
<circle cx="208.12" cy="571.88" r="1.25" fill="#f6d3dc" stroke="#ad0e35" stroke-width="1.0"/>
<circle cx="211.50" cy="572.50" r="1.25" fill="#f6d3dc" stroke="#ad0e35" stroke-width="1.0"/>
<circle cx="211.50" cy="578.38" r="1.25" fill="#f6d3dc" stroke="#ad0e35" stroke-width="1.0"/>
<line x1="205" y1="526" x2="218.1" y2="526" stroke="#000" stroke-width="1.3"/>
<circle cx="230.25" cy="495.12" r="1.35" fill="#1f3b73"/>
<circle cx="230.25" cy="502.25" r="1.35" fill="#1f3b73"/>
<circle cx="230.25" cy="527.00" r="1.35" fill="#1f3b73"/>
<circle cx="230.62" cy="556.88" r="1.35" fill="#1f3b73"/>
<circle cx="234.00" cy="558.50" r="1.35" fill="#1f3b73"/>
<circle cx="227.25" cy="558.75" r="1.35" fill="#1f3b73"/>
<circle cx="225.62" cy="560.50" r="1.35" fill="#1f3b73"/>
<circle cx="230.62" cy="560.88" r="1.35" fill="#1f3b73"/>
<circle cx="234.38" cy="560.62" r="1.35" fill="#1f3b73"/>
<circle cx="227.50" cy="562.75" r="1.35" fill="#1f3b73"/>
<circle cx="233.75" cy="563.75" r="1.35" fill="#1f3b73"/>
<circle cx="230.00" cy="565.00" r="1.35" fill="#1f3b73"/>
<circle cx="227.50" cy="566.50" r="1.35" fill="#1f3b73"/>
<circle cx="233.12" cy="566.88" r="1.35" fill="#1f3b73"/>
<circle cx="230.62" cy="572.25" r="1.35" fill="#1f3b73"/>
<circle cx="228.75" cy="571.22" r="1.35" fill="#1f3b73"/>
<circle cx="232.50" cy="571.22" r="1.35" fill="#1f3b73"/>
<circle cx="226.88" cy="570.19" r="1.35" fill="#1f3b73"/>
<circle cx="234.38" cy="570.19" r="1.35" fill="#1f3b73"/>
<circle cx="225.00" cy="569.16" r="1.35" fill="#1f3b73"/>
<circle cx="236.25" cy="569.16" r="1.35" fill="#1f3b73"/>
<circle cx="229.62" cy="573.00" r="1.35" fill="#1f3b73"/>
<circle cx="231.62" cy="573.00" r="1.35" fill="#1f3b73"/>
<circle cx="227.75" cy="572.06" r="1.35" fill="#1f3b73"/>
<circle cx="233.50" cy="572.06" r="1.35" fill="#1f3b73"/>
<circle cx="225.88" cy="571.12" r="1.35" fill="#1f3b73"/>
<circle cx="235.38" cy="571.12" r="1.35" fill="#1f3b73"/>
<circle cx="226.25" cy="574.62" r="1.35" fill="#1f3b73"/>
<circle cx="234.75" cy="574.62" r="1.35" fill="#1f3b73"/>
<circle cx="228.75" cy="575.88" r="1.35" fill="#1f3b73"/>
<circle cx="232.12" cy="576.25" r="1.35" fill="#1f3b73"/>
<circle cx="230.62" cy="582.75" r="1.35" fill="#1f3b73"/>
<circle cx="228.75" cy="581.62" r="1.35" fill="#1f3b73"/>
<circle cx="232.50" cy="581.62" r="1.35" fill="#1f3b73"/>
<circle cx="226.88" cy="580.50" r="1.35" fill="#1f3b73"/>
<circle cx="234.38" cy="580.50" r="1.35" fill="#1f3b73"/>
<circle cx="225.00" cy="579.38" r="1.35" fill="#1f3b73"/>
<circle cx="236.25" cy="579.38" r="1.35" fill="#1f3b73"/>
<circle cx="229.62" cy="583.75" r="1.35" fill="#1f3b73"/>
<circle cx="231.62" cy="583.75" r="1.35" fill="#1f3b73"/>
<circle cx="227.75" cy="582.81" r="1.35" fill="#1f3b73"/>
<circle cx="233.50" cy="582.81" r="1.35" fill="#1f3b73"/>
<circle cx="227.25" cy="585.50" r="1.35" fill="#1f3b73"/>
<circle cx="234.00" cy="585.88" r="1.35" fill="#1f3b73"/>
<circle cx="230.00" cy="587.75" r="1.35" fill="#1f3b73"/>
<circle cx="226.25" cy="590.00" r="1.35" fill="#1f3b73"/>
<circle cx="235.00" cy="589.75" r="1.35" fill="#1f3b73"/>
<circle cx="228.75" cy="591.50" r="1.35" fill="#1f3b73"/>
<circle cx="232.50" cy="591.50" r="1.35" fill="#1f3b73"/>
<line x1="224.3" y1="570" x2="236.8" y2="570" stroke="#000" stroke-width="1.3"/>
<text x="257" y="448.6" text-anchor="start" font-size="11" font-weight="bold" >C</text>
<text x="338.5" y="456.1" text-anchor="middle" font-size="9.6" font-weight="bold" >Final Product</text>
<text x="338.5" y="467.3" text-anchor="middle" font-size="9.6" font-weight="bold" >EGFRt</text>
<line x1="298.1" y1="473" x2="298.1" y2="593.8" stroke="#000" stroke-width="1.2"/>
<line x1="297.6" y1="593.3" x2="378.8" y2="593.3" stroke="#000" stroke-width="1.2"/>
<line x1="295" y1="476" x2="298.1" y2="476" stroke="#000" stroke-width="1.2"/>
<text x="291.6" y="478.6" text-anchor="end" font-size="7.5" font-weight="normal" >100</text>
<line x1="295" y1="534.7" x2="298.1" y2="534.7" stroke="#000" stroke-width="1.2"/>
<text x="291.6" y="537.3000000000001" text-anchor="end" font-size="7.5" font-weight="normal" >50</text>
<line x1="295" y1="593.3" x2="298.1" y2="593.3" stroke="#000" stroke-width="1.2"/>
<text x="291.6" y="595.9" text-anchor="end" font-size="7.5" font-weight="normal" >0</text>
<line x1="318" y1="593.3" x2="318" y2="596.8" stroke="#000" stroke-width="1.2"/>
<text x="318" y="606.8" text-anchor="middle" font-size="8.0" font-weight="normal" >CD4</text>
<line x1="358" y1="593.3" x2="358" y2="596.8" stroke="#000" stroke-width="1.2"/>
<text x="358" y="606.8" text-anchor="middle" font-size="8.0" font-weight="normal" >CD8</text>
<text transform="translate(270.4,532.4) rotate(-90)" text-anchor="middle" font-size="8.5" textLength="127.5" lengthAdjust="spacing">% of CD3/[CD8+ | CD4+]/EGFRt+</text>
<rect x="316.70" y="480.30" width="2.6" height="2.6" fill="#bf0f3a"/>
<rect x="316.70" y="482.70" width="2.6" height="2.6" fill="#bf0f3a"/>
<rect x="316.70" y="477.90" width="2.6" height="2.6" fill="#bf0f3a"/>
<rect x="314.80" y="479.31" width="2.6" height="2.6" fill="#bf0f3a"/>
<rect x="314.80" y="481.90" width="2.6" height="2.6" fill="#bf0f3a"/>
<rect x="314.80" y="477.33" width="2.6" height="2.6" fill="#bf0f3a"/>
<rect x="318.60" y="479.31" width="2.6" height="2.6" fill="#bf0f3a"/>
<rect x="318.60" y="481.90" width="2.6" height="2.6" fill="#bf0f3a"/>
<rect x="318.60" y="477.33" width="2.6" height="2.6" fill="#bf0f3a"/>
<rect x="312.90" y="478.32" width="2.6" height="2.6" fill="#bf0f3a"/>
<rect x="312.90" y="481.10" width="2.6" height="2.6" fill="#bf0f3a"/>
<rect x="312.90" y="476.76" width="2.6" height="2.6" fill="#bf0f3a"/>
<rect x="320.50" y="478.32" width="2.6" height="2.6" fill="#bf0f3a"/>
<rect x="320.50" y="481.10" width="2.6" height="2.6" fill="#bf0f3a"/>
<rect x="320.50" y="476.76" width="2.6" height="2.6" fill="#bf0f3a"/>
<rect x="311.00" y="477.34" width="2.6" height="2.6" fill="#bf0f3a"/>
<rect x="311.00" y="480.31" width="2.6" height="2.6" fill="#bf0f3a"/>
<rect x="311.00" y="476.19" width="2.6" height="2.6" fill="#bf0f3a"/>
<rect x="322.40" y="477.34" width="2.6" height="2.6" fill="#bf0f3a"/>
<rect x="322.40" y="480.31" width="2.6" height="2.6" fill="#bf0f3a"/>
<rect x="322.40" y="476.19" width="2.6" height="2.6" fill="#bf0f3a"/>
<rect x="309.10" y="476.35" width="2.6" height="2.6" fill="#bf0f3a"/>
<rect x="309.10" y="479.51" width="2.6" height="2.6" fill="#bf0f3a"/>
<rect x="309.10" y="475.62" width="2.6" height="2.6" fill="#bf0f3a"/>
<rect x="324.30" y="476.35" width="2.6" height="2.6" fill="#bf0f3a"/>
<rect x="324.30" y="479.51" width="2.6" height="2.6" fill="#bf0f3a"/>
<rect x="324.30" y="475.62" width="2.6" height="2.6" fill="#bf0f3a"/>
<rect x="307.30" y="475.41" width="2.6" height="2.6" fill="#bf0f3a"/>
<rect x="307.30" y="478.75" width="2.6" height="2.6" fill="#bf0f3a"/>
<rect x="326.10" y="475.41" width="2.6" height="2.6" fill="#bf0f3a"/>
<rect x="326.10" y="478.75" width="2.6" height="2.6" fill="#bf0f3a"/>
<rect x="310.60" y="485.20" width="2.6" height="2.6" fill="#bf0f3a"/>
<rect x="318.70" y="486.00" width="2.6" height="2.6" fill="#bf0f3a"/>
<rect x="322.50" y="484.90" width="2.6" height="2.6" fill="#bf0f3a"/>
<rect x="314.90" y="487.90" width="2.6" height="2.6" fill="#bf0f3a"/>
<rect x="312.50" y="491.00" width="2.6" height="2.6" fill="#bf0f3a"/>
<rect x="320.60" y="490.60" width="2.6" height="2.6" fill="#bf0f3a"/>
<rect x="317.20" y="493.30" width="2.6" height="2.6" fill="#bf0f3a"/>
<rect x="314.90" y="497.20" width="2.6" height="2.6" fill="#bf0f3a"/>
<line x1="305.4" y1="483.5" x2="330.8" y2="483.5" stroke="#000" stroke-width="1.3"/>
<rect x="357.25" y="481.45" width="2.5" height="2.5" fill="#1f3b73"/>
<rect x="357.25" y="484.35" width="2.5" height="2.5" fill="#1f3b73"/>
<rect x="357.25" y="486.95" width="2.5" height="2.5" fill="#1f3b73"/>
<rect x="357.25" y="494.15" width="2.5" height="2.5" fill="#1f3b73"/>
<rect x="355.45" y="480.41" width="2.5" height="2.5" fill="#1f3b73"/>
<rect x="355.45" y="483.54" width="2.5" height="2.5" fill="#1f3b73"/>
<rect x="355.45" y="486.86" width="2.5" height="2.5" fill="#1f3b73"/>
<rect x="355.45" y="493.61" width="2.5" height="2.5" fill="#1f3b73"/>
<rect x="355.45" y="489.77" width="2.5" height="2.5" fill="#1f3b73"/>
<rect x="359.05" y="480.41" width="2.5" height="2.5" fill="#1f3b73"/>
<rect x="359.05" y="483.54" width="2.5" height="2.5" fill="#1f3b73"/>
<rect x="359.05" y="486.86" width="2.5" height="2.5" fill="#1f3b73"/>
<rect x="359.05" y="493.61" width="2.5" height="2.5" fill="#1f3b73"/>
<rect x="359.05" y="489.77" width="2.5" height="2.5" fill="#1f3b73"/>
<rect x="353.65" y="479.36" width="2.5" height="2.5" fill="#1f3b73"/>
<rect x="353.65" y="482.73" width="2.5" height="2.5" fill="#1f3b73"/>
<rect x="353.65" y="486.77" width="2.5" height="2.5" fill="#1f3b73"/>
<rect x="353.65" y="493.07" width="2.5" height="2.5" fill="#1f3b73"/>
<rect x="353.65" y="489.59" width="2.5" height="2.5" fill="#1f3b73"/>
<rect x="360.85" y="479.36" width="2.5" height="2.5" fill="#1f3b73"/>
<rect x="360.85" y="482.73" width="2.5" height="2.5" fill="#1f3b73"/>
<rect x="360.85" y="486.77" width="2.5" height="2.5" fill="#1f3b73"/>
<rect x="360.85" y="493.07" width="2.5" height="2.5" fill="#1f3b73"/>
<rect x="360.85" y="489.59" width="2.5" height="2.5" fill="#1f3b73"/>
<rect x="351.85" y="478.32" width="2.5" height="2.5" fill="#1f3b73"/>
<rect x="351.85" y="481.92" width="2.5" height="2.5" fill="#1f3b73"/>
<rect x="351.85" y="486.68" width="2.5" height="2.5" fill="#1f3b73"/>
<rect x="351.85" y="492.53" width="2.5" height="2.5" fill="#1f3b73"/>
<rect x="351.85" y="489.41" width="2.5" height="2.5" fill="#1f3b73"/>
<rect x="362.65" y="478.32" width="2.5" height="2.5" fill="#1f3b73"/>
<rect x="362.65" y="481.92" width="2.5" height="2.5" fill="#1f3b73"/>
<rect x="362.65" y="486.68" width="2.5" height="2.5" fill="#1f3b73"/>
<rect x="362.65" y="492.53" width="2.5" height="2.5" fill="#1f3b73"/>
<rect x="362.65" y="489.41" width="2.5" height="2.5" fill="#1f3b73"/>
<rect x="350.05" y="477.27" width="2.5" height="2.5" fill="#1f3b73"/>
<rect x="350.05" y="481.11" width="2.5" height="2.5" fill="#1f3b73"/>
<rect x="350.05" y="486.59" width="2.5" height="2.5" fill="#1f3b73"/>
<rect x="350.05" y="491.99" width="2.5" height="2.5" fill="#1f3b73"/>
<rect x="350.05" y="489.23" width="2.5" height="2.5" fill="#1f3b73"/>
<rect x="364.45" y="477.27" width="2.5" height="2.5" fill="#1f3b73"/>
<rect x="364.45" y="481.11" width="2.5" height="2.5" fill="#1f3b73"/>
<rect x="364.45" y="486.59" width="2.5" height="2.5" fill="#1f3b73"/>
<rect x="364.45" y="491.99" width="2.5" height="2.5" fill="#1f3b73"/>
<rect x="364.45" y="489.23" width="2.5" height="2.5" fill="#1f3b73"/>
<rect x="348.25" y="476.23" width="2.5" height="2.5" fill="#1f3b73"/>
<rect x="348.25" y="480.30" width="2.5" height="2.5" fill="#1f3b73"/>
<rect x="348.25" y="486.50" width="2.5" height="2.5" fill="#1f3b73"/>
<rect x="348.25" y="491.45" width="2.5" height="2.5" fill="#1f3b73"/>
<rect x="366.25" y="476.23" width="2.5" height="2.5" fill="#1f3b73"/>
<rect x="366.25" y="480.30" width="2.5" height="2.5" fill="#1f3b73"/>
<rect x="366.25" y="486.50" width="2.5" height="2.5" fill="#1f3b73"/>
<rect x="366.25" y="491.45" width="2.5" height="2.5" fill="#1f3b73"/>
<rect x="361.05" y="497.25" width="2.5" height="2.5" fill="#1f3b73"/>
<rect x="352.95" y="499.55" width="2.5" height="2.5" fill="#1f3b73"/>
<rect x="357.25" y="500.25" width="2.5" height="2.5" fill="#1f3b73"/>
<rect x="359.15" y="503.75" width="2.5" height="2.5" fill="#1f3b73"/>
<rect x="355.25" y="505.25" width="2.5" height="2.5" fill="#1f3b73"/>
<line x1="346" y1="488" x2="371" y2="488" stroke="#000" stroke-width="1.3"/>
<text x="391.3" y="448.4" text-anchor="start" font-size="11" font-weight="bold" >D</text>
<text x="472.8" y="456.2" text-anchor="middle" font-size="9.6" font-weight="bold" >Final Product</text>
<text x="472.8" y="467.3" text-anchor="middle" font-size="9.6" font-weight="bold" >EGFRt MFI</text>
<line x1="431.7" y1="472.5" x2="431.7" y2="594" stroke="#000" stroke-width="1.2"/>
<line x1="431.2" y1="593.5" x2="513" y2="593.5" stroke="#000" stroke-width="1.2"/>
<line x1="428.6" y1="475.7" x2="431.7" y2="475.7" stroke="#000" stroke-width="1.2"/>
<text x="425.6" y="478.3" text-anchor="end" font-size="7.5" font-weight="normal" >800</text>
<line x1="428.6" y1="505.2" x2="431.7" y2="505.2" stroke="#000" stroke-width="1.2"/>
<text x="425.6" y="507.8" text-anchor="end" font-size="7.5" font-weight="normal" >600</text>
<line x1="428.6" y1="534.6" x2="431.7" y2="534.6" stroke="#000" stroke-width="1.2"/>
<text x="425.6" y="537.2" text-anchor="end" font-size="7.5" font-weight="normal" >400</text>
<line x1="428.6" y1="564" x2="431.7" y2="564" stroke="#000" stroke-width="1.2"/>
<text x="425.6" y="566.6" text-anchor="end" font-size="7.5" font-weight="normal" >200</text>
<line x1="428.6" y1="593.5" x2="431.7" y2="593.5" stroke="#000" stroke-width="1.2"/>
<text x="425.6" y="596.1" text-anchor="end" font-size="7.5" font-weight="normal" >0</text>
<line x1="453" y1="593.5" x2="453" y2="597" stroke="#000" stroke-width="1.2"/>
<text x="453" y="606.6" text-anchor="middle" font-size="8.0" font-weight="normal" >CD4</text>
<line x1="492.7" y1="593.5" x2="492.7" y2="597" stroke="#000" stroke-width="1.2"/>
<text x="492.7" y="606.6" text-anchor="middle" font-size="8.0" font-weight="normal" >CD8</text>
<text transform="translate(404.8,534.4) rotate(-90)" text-anchor="middle" font-size="8.5" textLength="130.8" lengthAdjust="spacing">MFI of CD3/[CD8+ | CD4+]/EGFRt+</text>
<rect x="451.20" y="487.01" width="2.6" height="2.6" fill="#bf0f3a"/>
<rect x="451.20" y="492.89" width="2.6" height="2.6" fill="#bf0f3a"/>
<rect x="451.20" y="498.60" width="2.6" height="2.6" fill="#bf0f3a"/>
<rect x="451.20" y="503.45" width="2.6" height="2.6" fill="#bf0f3a"/>
<rect x="451.20" y="509.33" width="2.6" height="2.6" fill="#bf0f3a"/>
<rect x="451.20" y="521.97" width="2.6" height="2.6" fill="#bf0f3a"/>
<rect x="449.47" y="525.08" width="2.6" height="2.6" fill="#bf0f3a"/>
<rect x="452.93" y="527.51" width="2.6" height="2.6" fill="#bf0f3a"/>
<rect x="442.55" y="529.41" width="2.6" height="2.6" fill="#bf0f3a"/>
<rect x="459.85" y="528.54" width="2.6" height="2.6" fill="#bf0f3a"/>
<rect x="446.01" y="530.62" width="2.6" height="2.6" fill="#bf0f3a"/>
<rect x="456.39" y="529.76" width="2.6" height="2.6" fill="#bf0f3a"/>
<rect x="449.12" y="532.01" width="2.6" height="2.6" fill="#bf0f3a"/>
<rect x="452.93" y="531.49" width="2.6" height="2.6" fill="#bf0f3a"/>
<rect x="442.55" y="539.27" width="2.6" height="2.6" fill="#bf0f3a"/>
<rect x="446.01" y="540.66" width="2.6" height="2.6" fill="#bf0f3a"/>
<rect x="449.12" y="541.87" width="2.6" height="2.6" fill="#bf0f3a"/>
<rect x="452.06" y="542.39" width="2.6" height="2.6" fill="#bf0f3a"/>
<rect x="454.66" y="541.87" width="2.6" height="2.6" fill="#bf0f3a"/>
<rect x="457.26" y="540.66" width="2.6" height="2.6" fill="#bf0f3a"/>
<rect x="459.85" y="539.27" width="2.6" height="2.6" fill="#bf0f3a"/>
<rect x="443.41" y="544.47" width="2.6" height="2.6" fill="#bf0f3a"/>
<rect x="446.01" y="545.85" width="2.6" height="2.6" fill="#bf0f3a"/>
<rect x="449.12" y="547.06" width="2.6" height="2.6" fill="#bf0f3a"/>
<rect x="452.06" y="547.58" width="2.6" height="2.6" fill="#bf0f3a"/>
<rect x="454.66" y="547.06" width="2.6" height="2.6" fill="#bf0f3a"/>
<rect x="457.26" y="545.85" width="2.6" height="2.6" fill="#bf0f3a"/>
<rect x="459.85" y="544.12" width="2.6" height="2.6" fill="#bf0f3a"/>
<rect x="445.14" y="548.79" width="2.6" height="2.6" fill="#bf0f3a"/>
<rect x="447.74" y="549.66" width="2.6" height="2.6" fill="#bf0f3a"/>
<rect x="454.66" y="549.31" width="2.6" height="2.6" fill="#bf0f3a"/>
<rect x="457.26" y="548.27" width="2.6" height="2.6" fill="#bf0f3a"/>
<rect x="444.28" y="542.04" width="2.6" height="2.6" fill="#bf0f3a"/>
<rect x="458.47" y="541.70" width="2.6" height="2.6" fill="#bf0f3a"/>
<rect x="447.39" y="544.12" width="2.6" height="2.6" fill="#bf0f3a"/>
<rect x="456.05" y="544.12" width="2.6" height="2.6" fill="#bf0f3a"/>
<rect x="451.20" y="544.81" width="2.6" height="2.6" fill="#bf0f3a"/>
<rect x="451.20" y="550.00" width="2.6" height="2.6" fill="#bf0f3a"/>
<rect x="449.47" y="552.77" width="2.6" height="2.6" fill="#bf0f3a"/>
<rect x="452.93" y="552.25" width="2.6" height="2.6" fill="#bf0f3a"/>
<rect x="451.20" y="557.97" width="2.6" height="2.6" fill="#bf0f3a"/>
<rect x="451.20" y="564.02" width="2.6" height="2.6" fill="#bf0f3a"/>
<line x1="440" y1="536.6" x2="464.6" y2="536.6" stroke="#000" stroke-width="1.3"/>
<rect x="491.40" y="507.31" width="2.5" height="2.5" fill="#1f3b73"/>
<rect x="489.67" y="517.34" width="2.5" height="2.5" fill="#1f3b73"/>
<rect x="493.31" y="520.29" width="2.5" height="2.5" fill="#1f3b73"/>
<rect x="491.40" y="524.61" width="2.5" height="2.5" fill="#1f3b73"/>
<rect x="487.59" y="528.94" width="2.5" height="2.5" fill="#1f3b73"/>
<rect x="495.04" y="527.73" width="2.5" height="2.5" fill="#1f3b73"/>
<rect x="491.40" y="531.54" width="2.5" height="2.5" fill="#1f3b73"/>
<rect x="493.31" y="535.00" width="2.5" height="2.5" fill="#1f3b73"/>
<rect x="489.67" y="538.11" width="2.5" height="2.5" fill="#1f3b73"/>
<rect x="484.13" y="541.06" width="2.5" height="2.5" fill="#1f3b73"/>
<rect x="499.71" y="539.67" width="2.5" height="2.5" fill="#1f3b73"/>
<rect x="487.59" y="542.44" width="2.5" height="2.5" fill="#1f3b73"/>
<rect x="491.40" y="542.44" width="2.5" height="2.5" fill="#1f3b73"/>
<rect x="495.38" y="542.44" width="2.5" height="2.5" fill="#1f3b73"/>
<rect x="497.98" y="543.65" width="2.5" height="2.5" fill="#1f3b73"/>
<rect x="482.40" y="545.38" width="2.5" height="2.5" fill="#1f3b73"/>
<rect x="485.86" y="546.25" width="2.5" height="2.5" fill="#1f3b73"/>
<rect x="489.67" y="545.38" width="2.5" height="2.5" fill="#1f3b73"/>
<rect x="497.11" y="545.38" width="2.5" height="2.5" fill="#1f3b73"/>
<rect x="500.57" y="545.04" width="2.5" height="2.5" fill="#1f3b73"/>
<rect x="487.59" y="548.32" width="2.5" height="2.5" fill="#1f3b73"/>
<rect x="491.40" y="548.84" width="2.5" height="2.5" fill="#1f3b73"/>
<rect x="495.38" y="548.32" width="2.5" height="2.5" fill="#1f3b73"/>
<rect x="489.67" y="551.44" width="2.5" height="2.5" fill="#1f3b73"/>
<rect x="493.31" y="551.44" width="2.5" height="2.5" fill="#1f3b73"/>
<rect x="484.13" y="554.04" width="2.5" height="2.5" fill="#1f3b73"/>
<rect x="497.11" y="553.17" width="2.5" height="2.5" fill="#1f3b73"/>
<rect x="487.59" y="556.63" width="2.5" height="2.5" fill="#1f3b73"/>
<rect x="491.40" y="555.77" width="2.5" height="2.5" fill="#1f3b73"/>
<rect x="495.38" y="557.50" width="2.5" height="2.5" fill="#1f3b73"/>
<rect x="498.84" y="558.71" width="2.5" height="2.5" fill="#1f3b73"/>
<rect x="484.13" y="559.23" width="2.5" height="2.5" fill="#1f3b73"/>
<rect x="489.67" y="560.96" width="2.5" height="2.5" fill="#1f3b73"/>
<rect x="487.59" y="562.69" width="2.5" height="2.5" fill="#1f3b73"/>
<rect x="493.31" y="563.55" width="2.5" height="2.5" fill="#1f3b73"/>
<rect x="489.67" y="567.54" width="2.5" height="2.5" fill="#1f3b73"/>
<line x1="480.2" y1="547.2" x2="505.3" y2="547.2" stroke="#000" stroke-width="1.3"/>
</svg>
<div id="frame"></div>
</body></html>
